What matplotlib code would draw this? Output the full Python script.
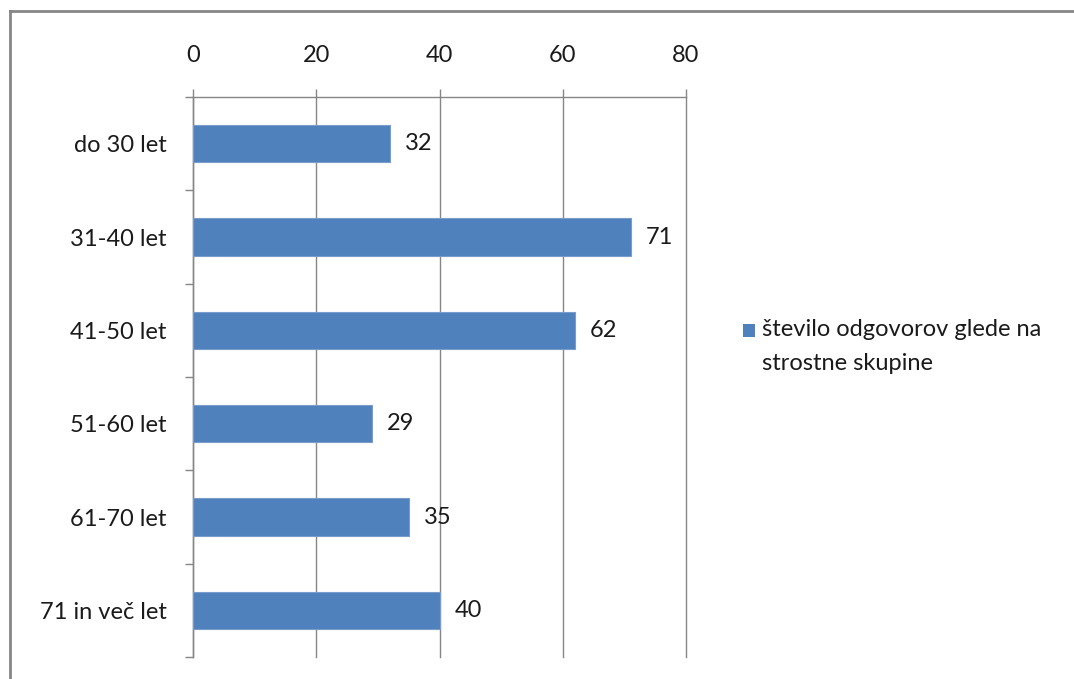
import matplotlib.pyplot as plt
from matplotlib.lines import Line2D
from matplotlib.patches import Rectangle

categories = ['do 30 let', '31-40 let', '41-50 let', '51-60 let', '61-70 let', '71 in več let']
values = [32, 71, 62, 29, 35, 40]
xticks = [0, 20, 40, 60, 80]
legend_label = 'število odgovorov glede na\nstrostne skupine'

bar_color = '#4F81BD'
gray = '#868686'
text_color = '#1a1a1a'

plt.rcParams['font.family'] = ['Lato', 'DejaVu Sans']
fs = 17

fig = plt.figure(figsize=(10.74, 6.79), dpi=100)
W, H = 1074, 679
ax = fig.add_axes([193 / W, 1 - 657 / H, (686 - 193) / W, (657 - 97) / H])

y = list(range(len(categories)))
ax.barh(y, values, height=0.4, color=bar_color, edgecolor='#7A9CCB', linewidth=0.8, zorder=3)
ax.set_ylim(len(categories) - 0.5, -0.5)
ax.set_xlim(0, 80)

for yi, v in zip(y, values):
    ax.annotate(str(v), (v, yi), xytext=(15, 0), textcoords='offset pixels',
                va='center', ha='left', fontsize=fs, color=text_color)

ax.xaxis.tick_top()
ax.set_xticks(xticks)
ax.set_xticklabels([str(t) for t in xticks], fontsize=fs, color=text_color)
ax.tick_params(axis='x', direction='out', length=6, width=1, color=gray, pad=16)

ax.set_yticks([i - 0.5 for i in range(len(categories) + 1)])
ax.set_yticklabels([])
ax.set_yticks(y, minor=True)
ax.set_yticklabels(categories, minor=True, fontsize=fs, color=text_color)
ax.tick_params(axis='y', which='major', direction='out', length=6, width=1, color=gray)
ax.tick_params(axis='y', which='minor', length=0, pad=19)

ax.grid(axis='x', color=gray, linewidth=1, zorder=0)
for gl in ax.get_xgridlines():
    gl.set_clip_on(False)
ax.set_axisbelow(True)
for s in ['right', 'bottom']:
    ax.spines[s].set_visible(False)
for s in ['left', 'top']:
    ax.spines[s].set_color(gray)
    ax.spines[s].set_linewidth(1)

# legend: square key next to the first line of the label
fig.add_artist(Rectangle((743 / W, 1 - 337 / H), 12 / W, 13 / H, transform=fig.transFigure,
                         facecolor=bar_color, edgecolor='none'))
fig.text(762 / W, 1 - 319 / H, legend_label, fontsize=fs, color=text_color,
         ha='left', va='top', linespacing=1.75)

# outer chart border (top and left)
fig.add_artist(Line2D([9.5 / W, 1], [1 - 10.5 / H, 1 - 10.5 / H], color=gray, linewidth=2))
fig.add_artist(Line2D([9.5 / W, 9.5 / W], [0, 1 - 10.5 / H], color=gray, linewidth=2))

fig.savefig('out.png', dpi=100)
